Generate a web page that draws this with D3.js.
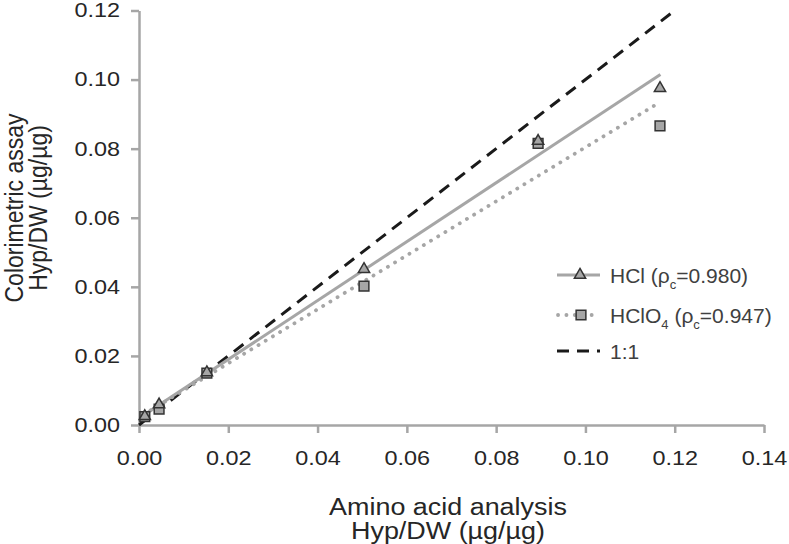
<!DOCTYPE html>
<html><head><meta charset="utf-8">
<script src="https://cdn.jsdelivr.net/npm/d3@7"></script>
<style>html,body{margin:0;padding:0;background:#fff;}svg{display:block;font-family:"Liberation Sans",Arial,sans-serif;}</style>
</head><body>
<svg id="chart" width="789" height="544"></svg>
<script>
// ---- data ----
const aminoAcidX = [0.0013, 0.0045, 0.0152, 0.0504, 0.0894, 0.1167];
const hclY       = [0.0028, 0.0062, 0.0155, 0.0454, 0.0825, 0.0978];
const hclo4Y     = [0.0024, 0.0046, 0.0150, 0.0402, 0.0815, 0.0866];
const hclFit     = [[0.0010, 0.0028], [0.1168, 0.1015]];
const hclo4Fit   = [[0.0010, 0.0030], [0.1165, 0.0933]];
const oneToOne   = [[0, 0], [0.12, 0.12]];
const xTicks = [0, 0.02, 0.04, 0.06, 0.08, 0.10, 0.12, 0.14];
const yTicks = [0, 0.02, 0.04, 0.06, 0.08, 0.10, 0.12];

const svg = d3.select("#chart");
const x = d3.scaleLinear().domain([0, 0.14]).range([139, 764]);
const y = d3.scaleLinear().domain([0, 0.12]).range([425, 10.5]);
const axisColor = "#a6a6a6";
const STRETCH = 1.17;
function stretch(sel) {
  sel.each(function () {
    const len = this.getComputedTextLength();
    d3.select(this).attr("textLength", len * STRETCH).attr("lengthAdjust", "spacingAndGlyphs");
  });
}

// axes
const gx = svg.append("g").attr("transform", `translate(0,${y(0)})`)
  .call(d3.axisBottom(x).tickValues(xTicks).tickFormat(d3.format(".2f")).tickSize(8).tickPadding(11).tickSizeOuter(0));
const gy = svg.append("g").attr("transform", `translate(${x(0)},0)`)
  .call(d3.axisLeft(y).tickValues(yTicks).tickFormat(d3.format(".2f")).tickSize(8).tickPadding(11).tickSizeOuter(0));
[gx, gy].forEach(g => {
  g.select(".domain").attr("stroke", axisColor).attr("stroke-width", 2.5);
  g.selectAll(".tick line").attr("stroke", axisColor).attr("stroke-width", 2.5);
  g.selectAll(".tick text").attr("fill", "#262626").attr("font-size", 20).attr("font-family", "Liberation Sans, Arial, sans-serif");
});
gx.selectAll(".tick text").attr("dy", "1.05em");
stretch(gx.selectAll(".tick text"));
stretch(gy.selectAll(".tick text"));

// lines
const line = d3.line().x(d => x(d[0])).y(d => y(d[1]));
svg.append("path").datum(oneToOne).attr("d", line).attr("fill", "none")
  .attr("stroke", "#1a1a1a").attr("stroke-width", 3).attr("stroke-dasharray", "12 8");
svg.append("path").datum(hclFit).attr("d", line).attr("fill", "none")
  .attr("stroke", "#a6a6a6").attr("stroke-width", 3);
svg.append("path").datum(hclo4Fit).attr("d", line).attr("fill", "none")
  .attr("stroke", "#a6a6a6").attr("stroke-width", 3.8).attr("stroke-linecap", "round").attr("stroke-dasharray", "0.1 8.3");

// markers
const tri = d3.symbol().type(d3.symbolTriangle).size(55);
const sq = d3.symbol().type(d3.symbolSquare).size(95);
const pts = aminoAcidX.map((v, i) => ({x: v, hcl: hclY[i], hclo4: hclo4Y[i]}));
svg.append("g").selectAll("path").data(pts).join("path")
  .attr("d", sq).attr("transform", d => `translate(${x(d.x)},${y(d.hclo4)})`)
  .attr("fill", "#a6a6a6").attr("stroke", "#333").attr("stroke-width", 1.5);
svg.append("g").selectAll("path").data(pts).join("path")
  .attr("d", tri).attr("transform", d => `translate(${x(d.x)},${y(d.hcl)+1})`)
  .attr("fill", "#a6a6a6").attr("stroke", "#333").attr("stroke-width", 1.5);

// legend
const lg = svg.append("g").attr("font-size", 21).attr("fill", "#404040");
const rows = [275, 315, 351];
lg.append("line").attr("x1", 557).attr("x2", 600).attr("y1", rows[0]).attr("y2", rows[0]).attr("stroke", "#a6a6a6").attr("stroke-width", 3);
lg.append("path").attr("d", tri).attr("transform", `translate(580,${rows[0]})`).attr("fill", "#a6a6a6").attr("stroke", "#333").attr("stroke-width", 1.5);
lg.append("line").attr("x1", 558).attr("x2", 600).attr("y1", rows[1]).attr("y2", rows[1]).attr("stroke", "#a6a6a6").attr("stroke-width", 3.8).attr("stroke-linecap", "round").attr("stroke-dasharray", "0.1 8.3");
lg.append("path").attr("d", sq).attr("transform", `translate(581,${rows[1]})`).attr("fill", "#a6a6a6").attr("stroke", "#333").attr("stroke-width", 1.5);
lg.append("line").attr("x1", 557).attr("x2", 600).attr("y1", rows[2]).attr("y2", rows[2]).attr("stroke", "#1a1a1a").attr("stroke-width", 3).attr("stroke-dasharray", "12 8");

const t1 = lg.append("text").attr("x", 610).attr("y", rows[0] + 8);
t1.append("tspan").text("HCl (ρ");
t1.append("tspan").attr("font-size", 13).attr("dy", 6).text("c");
t1.append("tspan").attr("dy", -6).text("=0.980)");
const t2 = lg.append("text").attr("x", 610).attr("y", rows[1] + 8);
t2.append("tspan").text("HClO");
t2.append("tspan").attr("font-size", 13).attr("dy", 6).text("4");
t2.append("tspan").attr("dy", -6).text(" (ρ");
t2.append("tspan").attr("font-size", 13).attr("dy", 6).text("c");
t2.append("tspan").attr("dy", -6).text("=0.947)");
lg.append("text").attr("x", 610).attr("y", rows[2] + 8).text("1:1");

// axis titles
const xt1 = svg.append("text").attr("text-anchor", "middle").attr("font-size", 23).attr("fill", "#262626")
  .attr("x", 448).attr("y", 515).text("Amino acid analysis");
const xt2 = svg.append("text").attr("text-anchor", "middle").attr("font-size", 23).attr("fill", "#262626")
  .attr("x", 448).attr("y", 539).text("Hyp/DW (µg/µg)");
stretch(xt1); stretch(xt2);
const yt = svg.append("text").attr("text-anchor", "middle").attr("font-size", 23).attr("fill", "#262626")
  .attr("transform", "translate(2,208) scale(1.1,1) rotate(-90)");
yt.append("tspan").attr("x", 0).attr("y", 19).text("Colorimetric assay");
yt.append("tspan").attr("x", 0).attr("y", 41).text("Hyp/DW (µg/µg)");
</script>
</body></html>
